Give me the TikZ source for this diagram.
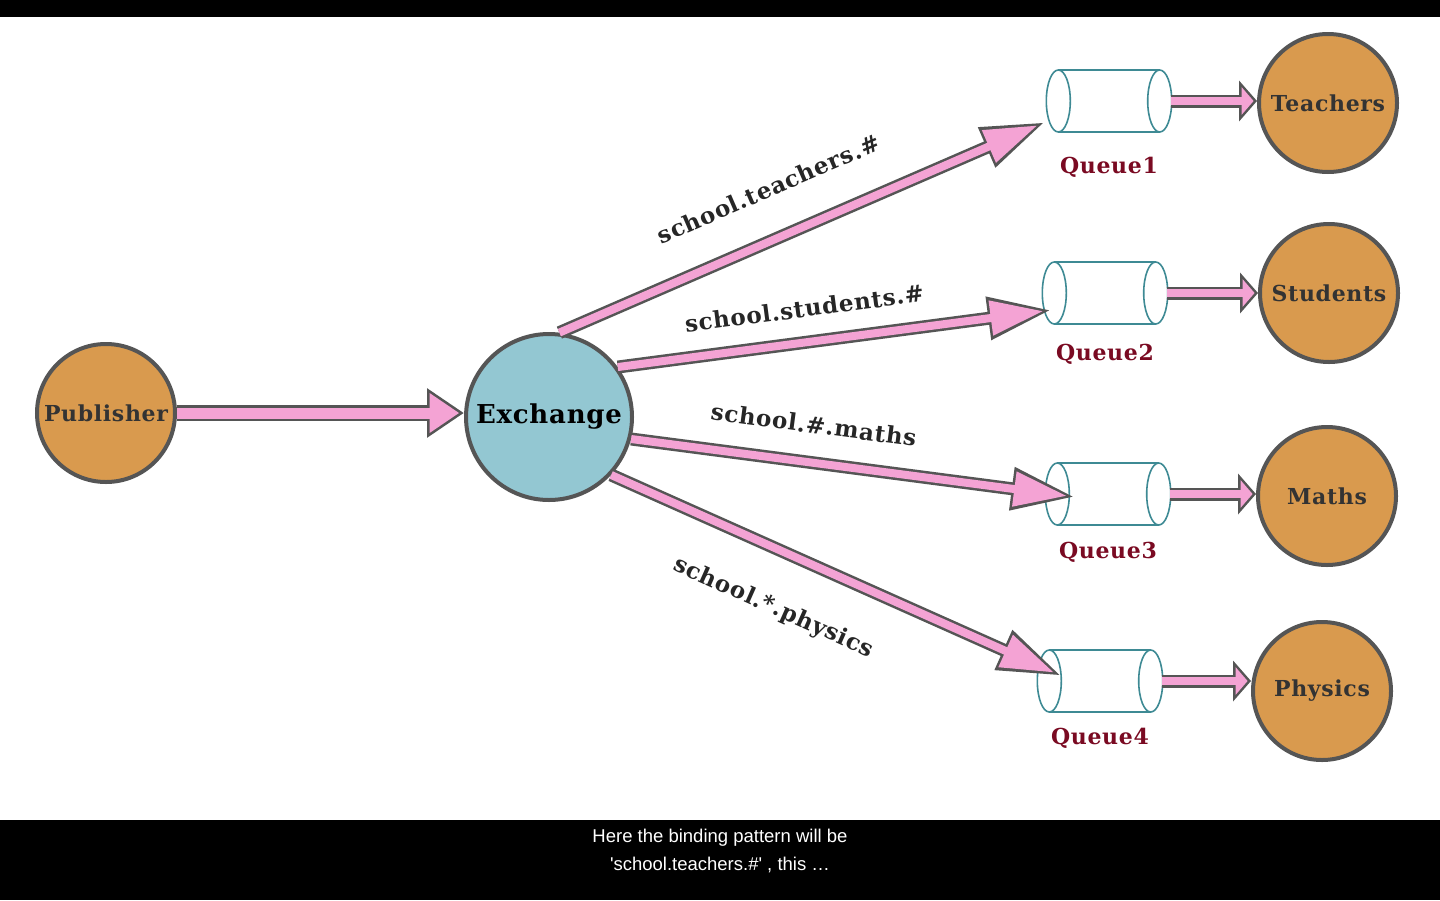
\documentclass[tikz,border=0pt]{standalone}
\usepackage{fontspec}
\setmainfont{DejaVu Serif}[LetterSpace=3]
\newfontfamily\capfont{Liberation Sans}
\usetikzlibrary{
  arrows.meta,
  calc,
  positioning,
}
\definecolor{nodeorange}{RGB}{217,154,78}
\definecolor{exchblue}{RGB}{147,199,210}
\definecolor{rimgray}{RGB}{85,85,85}
\definecolor{flowpink}{RGB}{244,163,212}
\definecolor{queueteal}{RGB}{62,138,148}
\definecolor{queuered}{RGB}{122,10,34}
\tikzstyle{actor} = [
  circle,
  draw=rimgray,
  line width=4pt,
  fill=nodeorange,
  minimum size=138pt,
  inner sep=0pt,
  font=\fontsize{22}{26}\selectfont\bfseries,
  text=black!80,
]
\tikzstyle{queue} = [rectangle, minimum width=101pt, minimum height=62pt, inner sep=0pt]
\tikzstyle{qwall} = [draw=queueteal, line width=1.6pt, fill=white]
\tikzstyle{qlabel} = [font=\fontsize{22}{26}\selectfont\bfseries, text=queuered, inner sep=0pt]
\tikzstyle{bind} = [font=\fontsize{23}{26}\selectfont\bfseries, text=black!85, inner sep=0pt, sloped]
\tikzstyle{feed} = [
  preaction={draw=rimgray, line width=16pt, shorten >=0pt, -{Triangle[length=37pt, width=47pt]}},
  draw=flowpink, line width=11pt, shorten >=4.7pt, -{Triangle[length=29.8pt, width=37.9pt]},
]
\tikzstyle{flow} = [
  preaction={draw=rimgray, line width=13pt, shorten >=0pt, -{Triangle[length=64pt, width=40pt]}},
  draw=flowpink, line width=8pt, shorten >=8.4pt, -{Triangle[length=53.1pt, width=33.2pt]},
]
\tikzstyle{drain} = [
  preaction={draw=rimgray, line width=13pt, shorten >=0pt, -{Triangle[length=18pt, width=40pt]}},
  draw=flowpink, line width=8pt, shorten >=3.4pt, -{Triangle[length=12pt, width=27pt]},
]

\begin{document}
\begin{tikzpicture}[x=1pt, y=-1pt]

  \useasboundingbox (0,0) rectangle (1440,900);
  \fill[white] (0,0) rectangle (1440,900);
  \fill[black] (0,0) rectangle (1440,17);
  \fill[black] (0,820) rectangle (1440,900);

  \node[actor] (pub) at (106,413) {Publisher};
  \node[actor, fill=exchblue, minimum size=166pt, font=\fontsize{26}{30}\selectfont\bfseries, text=black] (ex) at (549,417) {Exchange};

  \node[queue] (q1) at (1109,101) {};
  \node[queue] (q2) at (1105,293) {};
  \node[queue] (q3) at (1108,494) {};
  \node[queue] (q4) at (1100,681) {};
  \node[qlabel] (q1lbl) [below=25pt of q1] {Queue1};
  \node[qlabel] (q2lbl) [below=20pt of q2] {Queue2};
  \node[qlabel] (q3lbl) [below=17pt of q3] {Queue3};
  \node[qlabel] (q4lbl) [below=16pt of q4] {Queue4};

  \node[actor] (tea) at (1328,103) {Teachers};
  \node[actor] (stu) at (1329,293) {Students};
  \node[actor] (mat) at (1327,496) {Maths};
  \node[actor] (phy) at (1322,691) {Physics};

  \foreach \q in {q1,q2,q3,q4} {
    \draw[qwall] (\q.north west) -- (\q.north east) (\q.south west) -- (\q.south east);
    \draw[qwall] (\q.west) ellipse [x radius=12pt, y radius=31pt];
    \draw[qwall] (\q.east) ellipse [x radius=12pt, y radius=31pt];
  }

  \draw[feed] (pub.east) -- (pub.east -| ex.west);

  \draw[flow] (ex.83) -- ([xshift=-13pt,yshift=-21pt]q1.west)
    node[bind, pos=.47, above=36pt] {school.teachers.\#};
  \draw[flow] (ex.36) -- ([xshift=-2.5pt,yshift=-17pt]q2.west)
    node[bind, pos=.44, above=21pt] {school.students.\#};
  \draw[flow] (ex.-15) -- ([xshift=18pt,yshift=-3pt]q3.west)
    node[bind, pos=.40, above=25pt] {school.\#.maths};
  \draw[flow] (ex.-43) -- ([xshift=12.5pt,yshift=5pt]q4.west)
    node[bind, pos=.41, below=40pt] {school.*.physics};

  \draw[drain] ([xshift=11pt]q1.east) -- (q1.east -| tea.west);
  \draw[drain] ([xshift=11pt]q2.east) -- (q2.east -| stu.west);
  \draw[drain] ([xshift=11pt]q3.east) -- (q3.east -| mat.west);
  \draw[drain] ([xshift=11pt]q4.east) -- (q4.east -| phy.west);

  \node[font=\capfont\fontsize{18.5}{22}\selectfont, text=white] (sub1) at (720,838) {Here the binding pattern will be};
  \node[font=\capfont\fontsize{18.5}{22}\selectfont, text=white] (sub2) at (720,865) {\textquotesingle school.teachers.\#\textquotesingle\ , this \dots};

\end{tikzpicture}
\end{document}
